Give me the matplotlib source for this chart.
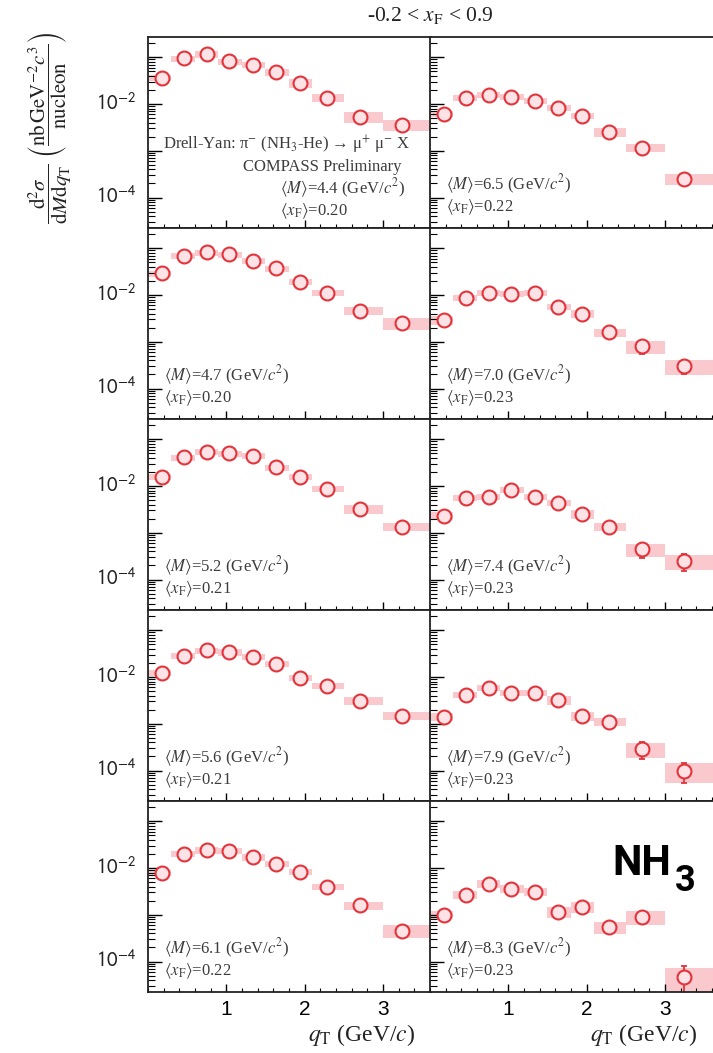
import numpy as np
import matplotlib
matplotlib.use("Agg")
import matplotlib.pyplot as plt
import matplotlib.transforms as mtransforms
from matplotlib.ticker import FixedLocator, LogLocator, NullFormatter, MultipleLocator

plt.rcParams['mathtext.fontset'] = 'stix'
plt.rcParams['font.family'] = ['Liberation Serif', 'DejaVu Serif']

# q_T binning (GeV/c) and mean q_T per bin
QT_EDGES = [0.0, 0.3, 0.6, 0.9, 1.2, 1.5, 1.8, 2.1, 2.5, 3.0, 4.0]
QT_MEAN = [0.18, 0.46, 0.75, 1.04, 1.34, 1.64, 1.94, 2.28, 2.71, 3.24]

# mass bins: left column then right column
MASS_LEFT = [4.4, 4.7, 5.2, 5.6, 6.1]
XF_LEFT = [0.20, 0.20, 0.21, 0.21, 0.22]
MASS_RIGHT = [6.5, 7.0, 7.4, 7.9, 8.3]
XF_RIGHT = [0.22, 0.23, 0.23, 0.23, 0.23]

# d2sigma/dM dqT  (nb GeV^-2 c^3 / nucleon)
xsec_m44 = [0.036, 0.095, 0.116, 0.082, 0.068, 0.048, 0.028, 0.0135, 0.0053, 0.0036]
xsec_m47 = [0.029, 0.068, 0.082, 0.074, 0.053, 0.037, 0.019, 0.011, 0.0046, 0.0025]
xsec_m52 = [0.0156, 0.041, 0.053, 0.050, 0.044, 0.025, 0.0156, 0.0087, 0.0032, 0.00134]
xsec_m56 = [0.0122, 0.028, 0.037, 0.034, 0.027, 0.019, 0.0095, 0.0065, 0.0031, 0.00148]
xsec_m61 = [0.0078, 0.020, 0.024, 0.023, 0.017, 0.0122, 0.0082, 0.0040, 0.0016, 0.00046]
xsec_m65 = [0.0061, 0.0134, 0.0156, 0.0141, 0.0116, 0.0082, 0.0056, 0.0025, 0.00116, 0.00025]
xsec_m70 = [0.0029, 0.0087, 0.011, 0.0105, 0.011, 0.0055, 0.0040, 0.0016, 0.0008, 0.0003]
xsec_m74 = [0.0023, 0.0055, 0.0059, 0.0082, 0.0058, 0.0044, 0.0025, 0.00134, 0.00044, 0.00025]
xsec_m79 = [0.0014, 0.0041, 0.0058, 0.0046, 0.0046, 0.0032, 0.00147, 0.0011, 0.00029, 0.0001]
xsec_m83 = [0.0010, 0.0027, 0.0046, 0.0036, 0.0031, 0.00115, 0.00148, 0.00055, 0.00091, 0.000046]

# relative statistical uncertainties
stat_m44 = [0.03, 0.02, 0.02, 0.02, 0.02, 0.03, 0.03, 0.04, 0.06, 0.08]
stat_m47 = [0.03, 0.02, 0.02, 0.02, 0.02, 0.03, 0.03, 0.04, 0.06, 0.10]
stat_m52 = [0.03, 0.03, 0.02, 0.02, 0.03, 0.03, 0.04, 0.05, 0.07, 0.12]
stat_m56 = [0.04, 0.03, 0.03, 0.03, 0.03, 0.04, 0.05, 0.06, 0.08, 0.12]
stat_m61 = [0.04, 0.03, 0.03, 0.03, 0.03, 0.04, 0.05, 0.07, 0.10, 0.20]
stat_m65 = [0.04, 0.03, 0.03, 0.03, 0.03, 0.04, 0.05, 0.06, 0.09, 0.15]
stat_m70 = [0.05, 0.04, 0.04, 0.04, 0.04, 0.05, 0.06, 0.10, 0.30, 0.33]
stat_m74 = [0.06, 0.05, 0.05, 0.05, 0.05, 0.06, 0.08, 0.10, 0.33, 0.38]
stat_m79 = [0.08, 0.06, 0.06, 0.06, 0.06, 0.08, 0.10, 0.12, 0.39, 0.47]
stat_m83 = [0.10, 0.08, 0.07, 0.08, 0.08, 0.12, 0.12, 0.20, 0.25, 0.72]

# relative systematic uncertainties
sys_m44 = [0.15, 0.15, 0.15, 0.15, 0.15, 0.17, 0.2, 0.2, 0.25, 0.25]
sys_m47 = [0.15, 0.15, 0.15, 0.15, 0.15, 0.15, 0.15, 0.15, 0.2, 0.3]
sys_m52 = [0.15, 0.15, 0.15, 0.15, 0.15, 0.15, 0.15, 0.15, 0.2, 0.2]
sys_m56 = [0.15, 0.15, 0.15, 0.15, 0.15, 0.15, 0.15, 0.15, 0.2, 0.2]
sys_m61 = [0.15, 0.15, 0.15, 0.15, 0.15, 0.15, 0.15, 0.15, 0.2, 0.3]
sys_m65 = [0.15, 0.15, 0.15, 0.15, 0.15, 0.15, 0.15, 0.2, 0.2, 0.25]
sys_m70 = [0.2, 0.15, 0.15, 0.15, 0.15, 0.15, 0.2, 0.2, 0.3, 0.35]
sys_m74 = [0.2, 0.15, 0.15, 0.15, 0.15, 0.15, 0.2, 0.2, 0.3, 0.35]
sys_m79 = [0.2, 0.15, 0.15, 0.15, 0.15, 0.2, 0.2, 0.2, 0.35, 0.45]
sys_m83 = [0.2, 0.2, 0.2, 0.2, 0.2, 0.25, 0.25, 0.3, 0.35, 0.55]

LEFT_PANELS = [(xsec_m44, stat_m44, sys_m44), (xsec_m47, stat_m47, sys_m47),
               (xsec_m52, stat_m52, sys_m52), (xsec_m56, stat_m56, sys_m56),
               (xsec_m61, stat_m61, sys_m61)]
RIGHT_PANELS = [(xsec_m65, stat_m65, sys_m65), (xsec_m70, stat_m70, sys_m70),
                (xsec_m74, stat_m74, sys_m74), (xsec_m79, stat_m79, sys_m79),
                (xsec_m83, stat_m83, sys_m83)]
Y_LABELED = [1e-2, 1e-4]

W, H = 713, 1053
fig = plt.figure(figsize=(W / 100, H / 100), dpi=100)

RED = '#e3343c'
BOX = '#fac9cd'
FILL = '#fde3e5'
TXT = '#3c3c3c'
X0_LEFT, X0_RIGHT = 148, 430
PW_LEFT, PW_RIGHT = 283, 286
PX_PER_GEV = 78.3
TOP, PH = 37, 191
YMIN, YMAX = 2.23e-5, 0.272


def draw_panel(ax, xsec, stat, sysr, left_col, bottom_row, pw):
    y = np.array(xsec)
    st = np.array(stat) * y
    sy = np.array(sysr) * y
    lo = np.array(QT_EDGES[:-1])
    wd = np.diff(QT_EDGES)
    ax.bar(lo, 2 * sy, bottom=y - sy, width=wd, align='edge', color=BOX,
           edgecolor='none', zorder=1)
    ax.errorbar(QT_MEAN, y, yerr=st, fmt='none', ecolor=RED, elinewidth=1.3,
                capsize=2, capthick=1.3, zorder=2)
    ax.plot(QT_MEAN, y, 'o', ms=10, mfc=FILL, mec=RED, mew=1.5, zorder=3)
    ax.set_yscale('log')
    ax.set_ylim(YMIN, YMAX)
    ax.set_xlim(0, pw / PX_PER_GEV)
    ax.yaxis.set_major_locator(LogLocator(base=10, numticks=10))
    ax.yaxis.set_minor_locator(LogLocator(base=10, subs=np.arange(2, 10), numticks=20))
    ax.yaxis.set_minor_formatter(NullFormatter())
    ax.yaxis.set_major_formatter(NullFormatter())
    if left_col:
        trans = mtransforms.blended_transform_factory(
            ax.transAxes + mtransforms.ScaledTranslation(-12 / 100, 0, fig.dpi_scale_trans),
            ax.transData)
        for v in Y_LABELED:
            ax.text(0, v, r'$10^{%d}$' % int(round(np.log10(v))), transform=trans,
                    ha='right', va='center', fontsize=15, color='#222222',
                    math_fontfamily='stixsans')
    ax.xaxis.set_major_locator(FixedLocator([1, 2, 3]))
    ax.xaxis.set_minor_locator(MultipleLocator(0.2))
    if bottom_row:
        ax.set_xticklabels(['1', '2', '3'])
    else:
        ax.xaxis.set_major_formatter(NullFormatter())
    ax.tick_params(axis='y', which='major', direction='in', length=10, width=1,
                   right=False)
    ax.tick_params(axis='y', which='minor', direction='in', length=5, width=0.8,
                   right=False)
    ax.tick_params(axis='x', which='major', direction='in', length=6, width=1,
                   labelsize=15, pad=6, top=False)
    ax.tick_params(axis='x', which='minor', direction='in', length=3, width=0.8,
                   top=False)
    for lab in ax.get_xticklabels():
        lab.set_family(['Liberation Sans', 'DejaVu Sans'])
    for sp in ax.spines.values():
        sp.set_linewidth(1.3)
        sp.set_color('#222222')


for r in range(5):
    top = TOP + r * PH
    for c, (x0, pw, panels, masses, xfs) in enumerate(
            [(X0_LEFT, PW_LEFT, LEFT_PANELS, MASS_LEFT, XF_LEFT),
             (X0_RIGHT, PW_RIGHT, RIGHT_PANELS, MASS_RIGHT, XF_RIGHT)]):
        ax = fig.add_axes([x0 / W, 1 - (top + PH) / H, pw / W, PH / H])
        xs, st, sy = panels[r]
        draw_panel(ax, xs, st, sy, c == 0, r == 4, pw)
        mtxt = r'$\langle M\rangle$=%.1f (GeV/$c^2$)' % masses[r]
        xtxt = r'$\langle x_\mathrm{F}\rangle$=%.2f' % xfs[r]
        if r == 0 and c == 0:
            ax.text(0.49, 0.435, 'Drell-Yan: π$^{-}$ (NH$_3$-He) → μ$^{+}$ μ$^{-}$ X',
                    transform=ax.transAxes, ha='center', va='center',
                    fontsize=12, color=TXT)
            ax.text(0.617, 0.32, 'COMPASS Preliminary', transform=ax.transAxes,
                    ha='center', va='center', fontsize=12, color=TXT)
            ax.text(0.468, 0.21, mtxt, transform=ax.transAxes, ha='left',
                    va='center', fontsize=12, color=TXT)
            ax.text(0.468, 0.09, xtxt, transform=ax.transAxes, ha='left',
                    va='center', fontsize=12, color=TXT)
        else:
            ax.text(0.055, 0.23, mtxt, transform=ax.transAxes, ha='left',
                    va='center', fontsize=12, color=TXT)
            ax.text(0.055, 0.11, xtxt, transform=ax.transAxes, ha='left',
                    va='center', fontsize=12, color=TXT)

fig.text(430 / W, 1 - 15 / H, r'-0.2 < $x_\mathrm{F}$ < 0.9', ha='center',
         va='center', fontsize=15.5, color='#222222')

for xr in (415, 697):
    fig.text(xr / W, 1 - 1035 / H, r'$q_\mathrm{T}$ (GeV/$c$)', ha='right',
             va='center', fontsize=17, color='#222222')

fig.text(50 / W, 1 - 128 / H,
         r'$\dfrac{\mathrm{d}^2\sigma}{\mathrm{d}M\mathrm{d}q_\mathrm{T}}\ \left(\dfrac{\mathrm{nb\,GeV}^{-2}c^3}{\mathrm{nucleon}}\right)$',
         rotation=90, ha='center', va='center', fontsize=15, color='#222222')

fig.text(612 / W, 1 - 875 / H, 'NH', ha='left', va='baseline', fontsize=30,
         fontweight='bold', family=['Roboto', 'DejaVu Sans'], color='black')
fig.text(675 / W, 1 - 891 / H, '3', ha='left', va='baseline', fontsize=26,
         fontweight='bold', family=['Roboto', 'DejaVu Sans'], color='black')

fig.savefig('out.png', dpi=100)
